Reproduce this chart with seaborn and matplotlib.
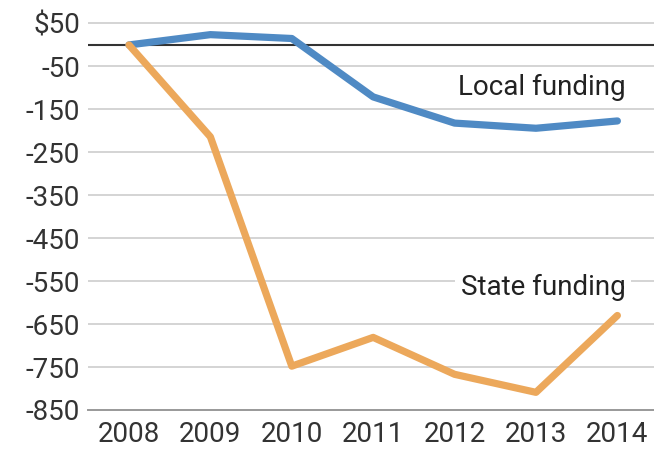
import pandas as pd
import numpy as np
import matplotlib
matplotlib.use("Agg")
import matplotlib.pyplot as plt
import seaborn as sns
from matplotlib import font_manager

years = [2008, 2009, 2010, 2011, 2012, 2013, 2014]
local_funding = [0, 24, 15, -121, -182, -194, -177]
state_funding = [0, -214, -748, -681, -767, -809, -630]
y_ticks = [50, -50, -150, -250, -350, -450, -550, -650, -750, -850]
y_labels = ["$50"] + [str(v) for v in y_ticks[1:]]

sns.set_theme(style="white")
names = {f.name for f in font_manager.fontManager.ttflist}
family = "Liberation Sans Narrow" if "Liberation Sans Narrow" in names else "Roboto"
plt.rcParams["font.family"] = [family, "DejaVu Sans"]

df = pd.DataFrame({"year": years * 2,
                   "value": local_funding + state_funding,
                   "series": ["Local funding"] * 7 + ["State funding"] * 7})

fig = plt.figure(figsize=(6.54, 4.51), dpi=100)
ax = fig.add_axes([0.135, 0.091, 0.865, 0.876])

for v in y_ticks[:-1]:
    ax.axhline(v, color="#d4d4d4", lw=1.4, zorder=0)
ax.axhline(0, color="#333333", lw=1.5, zorder=1)

sns.lineplot(data=df, x="year", y="value", hue="series",
             palette={"Local funding": "#4f8ac4", "State funding": "#eca85b"},
             lw=5.2, legend=False, ax=ax, zorder=3)

ax.set_xlim(2007.5, 2014.45)
ax.set_ylim(-850, 70)
ax.set_xticks(years)
ax.set_xticklabels([str(y) for y in years])
ax.set_yticks(y_ticks)
ax.set_yticklabels(y_labels)
ax.set_xlabel("")
ax.set_ylabel("")

for s in ["top", "right", "left"]:
    ax.spines[s].set_visible(False)
ax.spines["bottom"].set_color("#999999")
ax.spines["bottom"].set_linewidth(1.4)
ax.tick_params(axis="x", direction="in", length=15, width=1.2, color="#999999",
               labelsize=20, labelcolor="#333333", pad=8)
ax.tick_params(axis="y", length=0, labelsize=20, labelcolor="#333333", pad=6)

ax.text(2014.1, -100, "Local funding", fontsize=20, color="#222222",
        ha="right", va="center", zorder=4)
ax.text(2014.1, -565, "State funding", fontsize=20, color="#222222",
        ha="right", va="center", zorder=4,
        bbox=dict(facecolor="white", edgecolor="none", pad=4))

fig.savefig("out.png", dpi=100)
